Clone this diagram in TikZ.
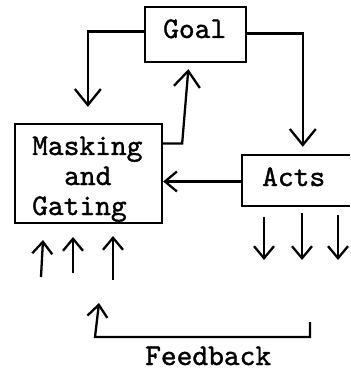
\documentclass[tikz,border=0pt]{standalone}
\usepackage{fontspec}
\newfontfamily\twfont{lmmono10-regular.otf}[FakeBold=1.2]
\usetikzlibrary{arrows.meta,calc}
\tikzset{
  box/.style={draw, line width=2.3pt, rectangle, inner sep=0pt},
  lbl/.style={anchor=base west, inner sep=0pt, font=\twfont\fontsize{30}{30}\selectfont},
  bigarr/.style={line width=2.3pt, -{Straight Barb[length=16pt,width=26pt,line width=2.3pt]}},
  smallarr/.style={line width=2.3pt, -{Straight Barb[length=12pt,width=20pt,line width=2.3pt]}},
}
\begin{document}
\begin{tikzpicture}[x=1pt,y=-1pt]
\useasboundingbox (0,0) rectangle (350,371);
% boxes
\node[box, minimum width=101pt, minimum height=55pt] (goal) at (195.5,34.5) {};
\node[box, minimum width=147pt, minimum height=99pt] (mg) at (88.5,173.5) {};
\node[rectangle, inner sep=0pt, minimum width=108pt, minimum height=51pt] (acts) at (296,180.5) {};
\draw[line width=2.3pt] (acts.north east) -- (acts.north west) -- (acts.south west) -- (acts.south east);
% labels
\node[lbl] (tgoal) at (163,38) {Goal};
\node[lbl] (tm1) at (32,155) {Masking};
\node[lbl] (tm2) at (64,185) {and};
\node[lbl] (tm3) at (32,215) {Gating};
\node[lbl] (tacts) at (262,186) {Acts};
\node[lbl] (tfb) at (145,365) {Feedback};
% connectors
\draw[bigarr, shorten >=16pt] ([yshift=3pt]goal.west) -| ($(mg.north west)+(74,0)$);
\draw[bigarr, shorten >=8pt] ([yshift=1pt]goal.east) -| ($(acts.north west)+(61,0)$);
\draw[bigarr, shorten >=6pt] ([yshift=30pt]mg.east) -- ++(19,0) -- ($(goal.south west)+(45,0)$);
\draw[smallarr] ([yshift=-1pt]acts.west) -- ([yshift=-1pt]acts.west -| mg.east);
% inputs below Masking and Gating
\coordinate (i1s) at (41,277); \coordinate (i1e) at (43,240);
\coordinate (i2s) at (73,273); \coordinate (i2e) at (73,237);
\coordinate (i3s) at (113,280); \coordinate (i3e) at (113,236);
\draw[smallarr] (i1s) -- (i1e);
\draw[smallarr] (i2s) -- (i2e);
\draw[smallarr] (i3s) -- (i3e);
% outputs below Acts
\coordinate (o1s) at (264,217); \coordinate (o1e) at (264,260);
\coordinate (o2s) at (302,213); \coordinate (o2e) at (302,260);
\coordinate (o3s) at (338,215); \coordinate (o3e) at (338,260);
\draw[smallarr] (o1s) -- (o1e);
\draw[smallarr] (o2s) -- (o2e);
\draw[smallarr] (o3s) -- (o3e);
% feedback
\coordinate (fbs) at (310,322);
\coordinate (fbc) at (310,337);
\coordinate (fbe) at (99,303);
\draw[smallarr] (fbs) -- (fbc) -- (95,337) -- (fbe);
\end{tikzpicture}
\end{document}
